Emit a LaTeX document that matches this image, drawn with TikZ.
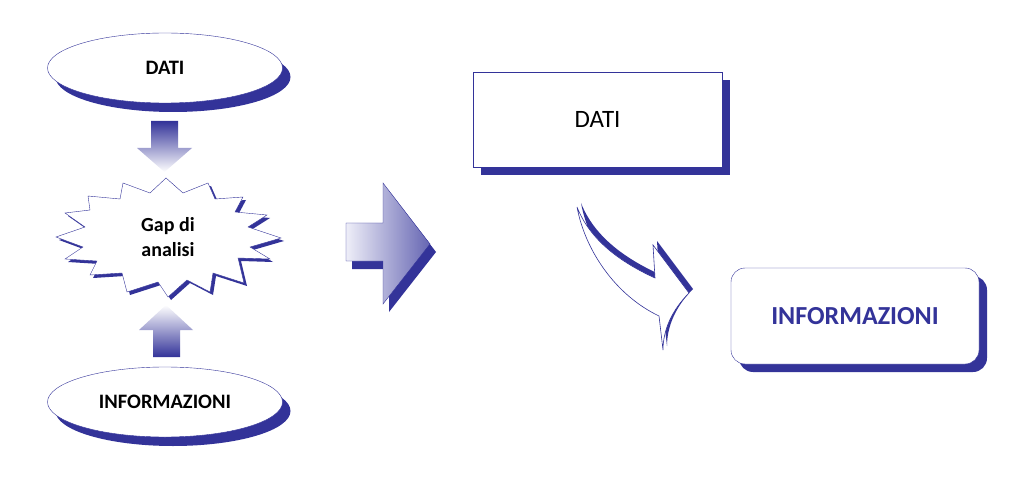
\documentclass[tikz,border=0pt]{standalone}
\usepackage{fontspec}
\setmainfont{Carlito}
\usepackage{tikz}
\usetikzlibrary{shapes.geometric,shadows}

\definecolor{dkblue}{HTML}{333399}
\definecolor{lavender}{HTML}{EEEEF8}

\tikzset{
  oval/.style={ellipse,draw=dkblue,fill=white,minimum width=235pt,minimum height=70pt,
    font=\bfseries\fontsize{20.5}{24}\selectfont,
    drop shadow={shadow xshift=8pt,shadow yshift=-9pt,fill=dkblue,opacity=1}},
  card/.style={rectangle,draw=dkblue,fill=white,minimum width=249pt,minimum height=95pt,
    drop shadow={shadow xshift=8pt,shadow yshift=-8pt,fill=dkblue,opacity=1}}
}

\def\gapstar{(166,178) -- (183,193) -- (208,183) -- (215,199) -- (243,197) -- (235,212)
  -- (267,215) -- (248,227) -- (281,238) -- (250,247) -- (270,259) -- (238,258)
  -- (244,283) -- (213,273) -- (210,292) -- (187,280) -- (168,297) -- (158,282)
  -- (127,292) -- (122,273) -- (90,275) -- (97,261) -- (65,259) -- (83,247)
  -- (56,237) -- (85,227) -- (65,213) -- (90,210) -- (88,196) -- (120,199)
  -- (123,183) -- (150,193) -- cycle}
\def\bigarrow{(346,223) -- (383,223) -- (383,183) -- (430,244) -- (383,304) -- (383,261) -- (346,261) -- cycle}
\def\bentarrow{(577,207) .. controls (590,240) and (620,262) .. (655,278) -- (653,245) -- (689,293)
  .. controls (672,310) and (663,330) .. (663,350) -- (659,316)
  .. controls (615,295) and (585,250) .. (577,207) -- cycle}

\begin{document}
\begin{tikzpicture}[x=1pt,y=-1pt]
  \useasboundingbox (0,0) rectangle (1028,489);
  % left column
  \node[oval] (datiOval) at (165,68) {DATI};
  \node[oval] (infoOval) at (165,402) {INFORMAZIONI};
  \shade[top color=dkblue,bottom color=white] (151,121) -- (178,121) -- (178,148) -- (192,148)
    -- (164.5,172) -- (137,148) -- (151,148) -- cycle;
  \shade[top color=white,bottom color=dkblue] (166,305) -- (193,330) -- (180,330) -- (180,357)
    -- (153,357) -- (153,330) -- (139,330) -- cycle;
  \fill[dkblue,shift={(3,3)}] \gapstar;
  \filldraw[fill=white,draw=dkblue] \gapstar;
  \node[align=center,font=\bfseries\fontsize{20}{25}\selectfont] (gap) at (168,237) {Gap di\\analisi};
  % big arrow
  \fill[dkblue,shift={(6,8)}] \bigarrow;
  \shadedraw[left color=lavender,right color=dkblue!75,draw=dkblue] \bigarrow;
  % right side
  \node[card,font=\fontsize{25}{30}\selectfont] (datiBox) at (597.5,119.5) {DATI};
  \node[card,rounded corners=14pt,minimum width=248pt,minimum height=96pt,text=dkblue,
    font=\bfseries\fontsize{26}{31}\selectfont] (infoBox) at (855,316) {INFORMAZIONI};
  \fill[dkblue,shift={(4,-4)}] \bentarrow;
  \filldraw[fill=white,draw=dkblue,line width=0.6pt] \bentarrow;
\end{tikzpicture}
\end{document}
